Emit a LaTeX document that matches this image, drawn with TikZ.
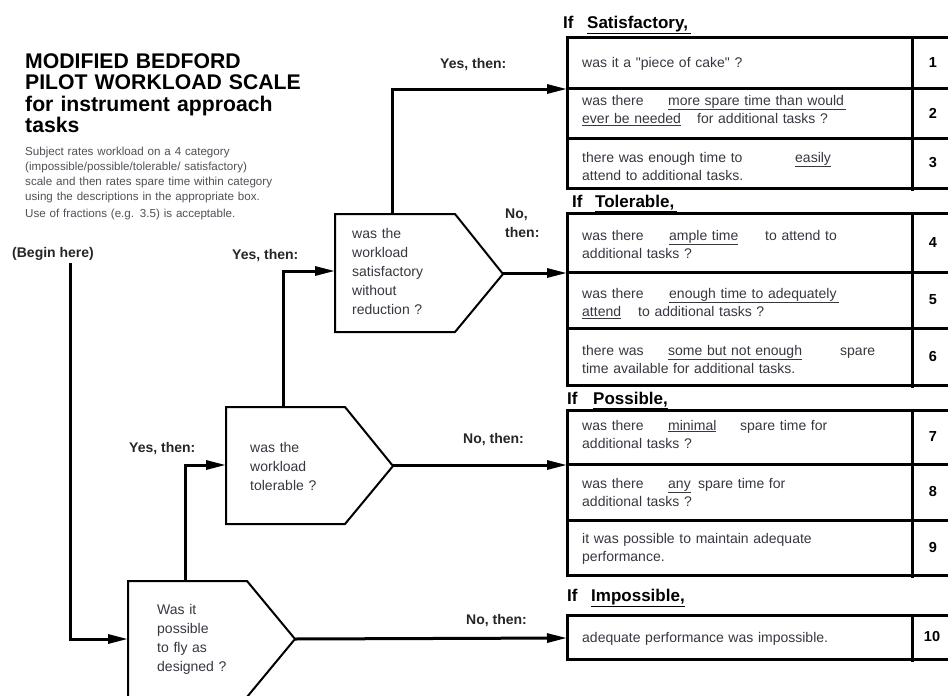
\documentclass[tikz,border=0pt]{standalone}
\usepackage{fontspec}
\setmainfont{Liberation Sans}[Ligatures=TeXOff]
\usetikzlibrary{arrows.meta}
\definecolor{txt}{RGB}{55,55,65}
\definecolor{subtxt}{RGB}{80,80,88}
\begin{document}
\begin{tikzpicture}[x=1pt,y=-1pt,
  conn/.style={line width=3pt,-{Triangle[length=20pt,width=9pt]}},
  pent/.style={line width=2pt,line join=miter},
  boxline/.style={line width=3pt},
  rowtext/.style={anchor=base west,inner sep=0pt,text width=330pt,align=left,text=txt,font=\fontsize{14}{18.5}\selectfont},
  ptext/.style={anchor=base west,inner sep=0pt,text width=110pt,align=left,text=txt,font=\fontsize{14}{19}\selectfont},
  lbl/.style={anchor=base west,inner sep=0pt,font=\fontsize{14}{19}\bfseries\selectfont,text=black!85},
  hdr/.style={anchor=base west,inner sep=0pt,font=\fontsize{17}{20}\bfseries\selectfont},
  num/.style={inner sep=0pt,font=\fontsize{14.5}{16}\bfseries\selectfont}
]
\useasboundingbox (0,0) rectangle (948,696);
\fill[white] (0,0) rectangle (948,696);

% ---- title block
\node[anchor=base west,inner sep=0pt,text width=320pt,align=left,font=\fontsize{21.2}{21.5}\bfseries\selectfont] (title) at (25,68)
  {MODIFIED BEDFORD\\PILOT WORKLOAD SCALE\\for instrument approach\\tasks};
\node[anchor=base west,inner sep=0pt,text width=300pt,align=left,text=subtxt,font=\fontsize{11.6}{15.3}\selectfont] (sub) at (25,155)
  {Subject rates workload on a 4 category\\(impossible/possible/tolerable/ satisfactory)\\scale and then rates spare time within category\\using the descriptions in the appropriate box.\\[0.8pt]Use of fractions (e.g. 3.5) is acceptable.};

% ---- pentagons
\draw[pent] (128,581) -- (247,581) -- (295,639) -- (247,697) -- (128,697) -- cycle;
\draw[pent] (226,407) -- (345,407) -- (393,466) -- (345,524) -- (226,524) -- cycle;
\draw[pent] (335,214) -- (455,214) -- (503,274) -- (455,332) -- (335,332) -- cycle;
\coordinate (p1w) at (128,639);
\coordinate (p1top) at (185,581);
\coordinate (p1tip) at (295,639);
\coordinate (p2w) at (226,465);
\coordinate (p2top) at (283,407);
\coordinate (p2tip) at (393,465);
\coordinate (p3w) at (335,271);
\coordinate (p3top) at (392,214);
\coordinate (p3tip) at (503,273);

\node[ptext] (q1) at (157,614) {Was it\\possible\\to fly as\\designed ?};
\node[ptext] (q2) at (250,452) {was the\\workload\\tolerable ?};
\node[ptext] (q3) at (352,238) {was the\\workload\\satisfactory\\without\\reduction ?};

% ---- headers
\node[hdr] (hS) at (563,28) {\makebox[24pt][l]{If}\underline{Satisfactory,\,}};
\node[hdr] (hT) at (572,207) {\makebox[23pt][l]{If}\underline{Tolerable,\,}};
\node[hdr] (hP) at (567,404) {\makebox[26pt][l]{If}\underline{Possible,}};
\node[hdr] (hI) at (567,601) {\makebox[24pt][l]{If}\underline{Impossible,}};

% ---- boxes
\draw[boxline] (567,37) rectangle (960,188);
\draw[boxline] (567,88) -- (960,88) (567,138) -- (960,138) (912,37) -- (912,191);
\draw[boxline] (567,213) rectangle (960,385);
\draw[boxline] (567,272) -- (960,272) (567,328) -- (960,328) (912,213) -- (912,388);
\draw[boxline] (567,410) rectangle (960,575);
\draw[boxline] (567,464) -- (960,464) (567,520) -- (960,520) (912,410) -- (912,578);
\draw[boxline] (567,615) rectangle (960,659);
\draw[boxline] (912,615) -- (912,662);

\coordinate (bS) at (567,89);
\coordinate (bT) at (567,273);
\coordinate (bP) at (567,465);
\coordinate (bI) at (567,638);

% ---- row texts
\node[rowtext] (r1) at (582,67) {was it a "piece of cake" ?};
\node[rowtext] (r2) at (582,105) {\makebox[86pt][l]{was there}\underline{more spare time than would\,}\\\makebox[115pt][l]{\underline{ever be needed}}for additional tasks ?};
\node[rowtext] (r3) at (582,162) {\makebox[213pt][l]{there was enough time to}\underline{easily}\\attend to additional tasks.};
\node[rowtext] (r4) at (582,240) {\makebox[87pt][l]{was there}\makebox[96pt][l]{\underline{ample time}}to attend to\\additional tasks ?};
\node[rowtext] (r5) at (582,298) {\makebox[87pt][l]{was there}\underline{enough time to adequately\,}\\\makebox[56pt][l]{\underline{attend}}to additional tasks ?};
\node[rowtext] (r6) at (582,355) {\makebox[86pt][l]{there was}\makebox[172pt][l]{\underline{some but not enough}}spare\\time available for additional tasks.};
\node[rowtext] (r7) at (582,430) {\makebox[86pt][l]{was there}\makebox[72pt][l]{\underline{minimal}}spare time for\\additional tasks ?};
\node[rowtext] (r8) at (582,488) {\makebox[86pt][l]{was there}\makebox[30pt][l]{\underline{any}}spare time for\\additional tasks ?};
\node[rowtext] (r9) at (582,543) {it was possible to maintain adequate\\performance.};
\node[rowtext] (r10) at (582,642) {adequate performance was impossible.};

% ---- numbers
\node[num] (n1) at (933,63) {1};
\node[num] (n2) at (933,113) {2};
\node[num] (n3) at (933,163) {3};
\node[num] (n4) at (933,243) {4};
\node[num] (n5) at (933,300) {5};
\node[num] (n6) at (933,357) {6};
\node[num] (n7) at (933,437) {7};
\node[num] (n8) at (933,492) {8};
\node[num] (n9) at (933,548) {9};
\node[num] (n10) at (932,637) {10};

% ---- labels
\node[lbl] (begin) at (12,257) {(Begin here)};
\node[lbl] (y1) at (440,68) {Yes, then:};
\node[lbl,align=left] (n3l) at (505,237) {No,\\then:};
\node[lbl] (y2) at (232,259) {Yes, then:};
\node[lbl] (y3) at (129,452) {Yes, then:};
\node[lbl] (n2l) at (463,443) {No, then:};
\node[lbl] (n1l) at (466,624) {No, then:};

% ---- connectors
\coordinate (start) at (70,263);
\draw[conn] (start) |- (p1w);
\draw[conn] (p1top) |- (p2w);
\draw[conn] (p2top) |- (p3w);
\draw[conn] (p3top) |- (bS);
\draw[conn] (p3tip) -- (bT);
\draw[conn] (p2tip) -- (bP);
\draw[conn] (p1tip) -- (bI);
\end{tikzpicture}
\end{document}
